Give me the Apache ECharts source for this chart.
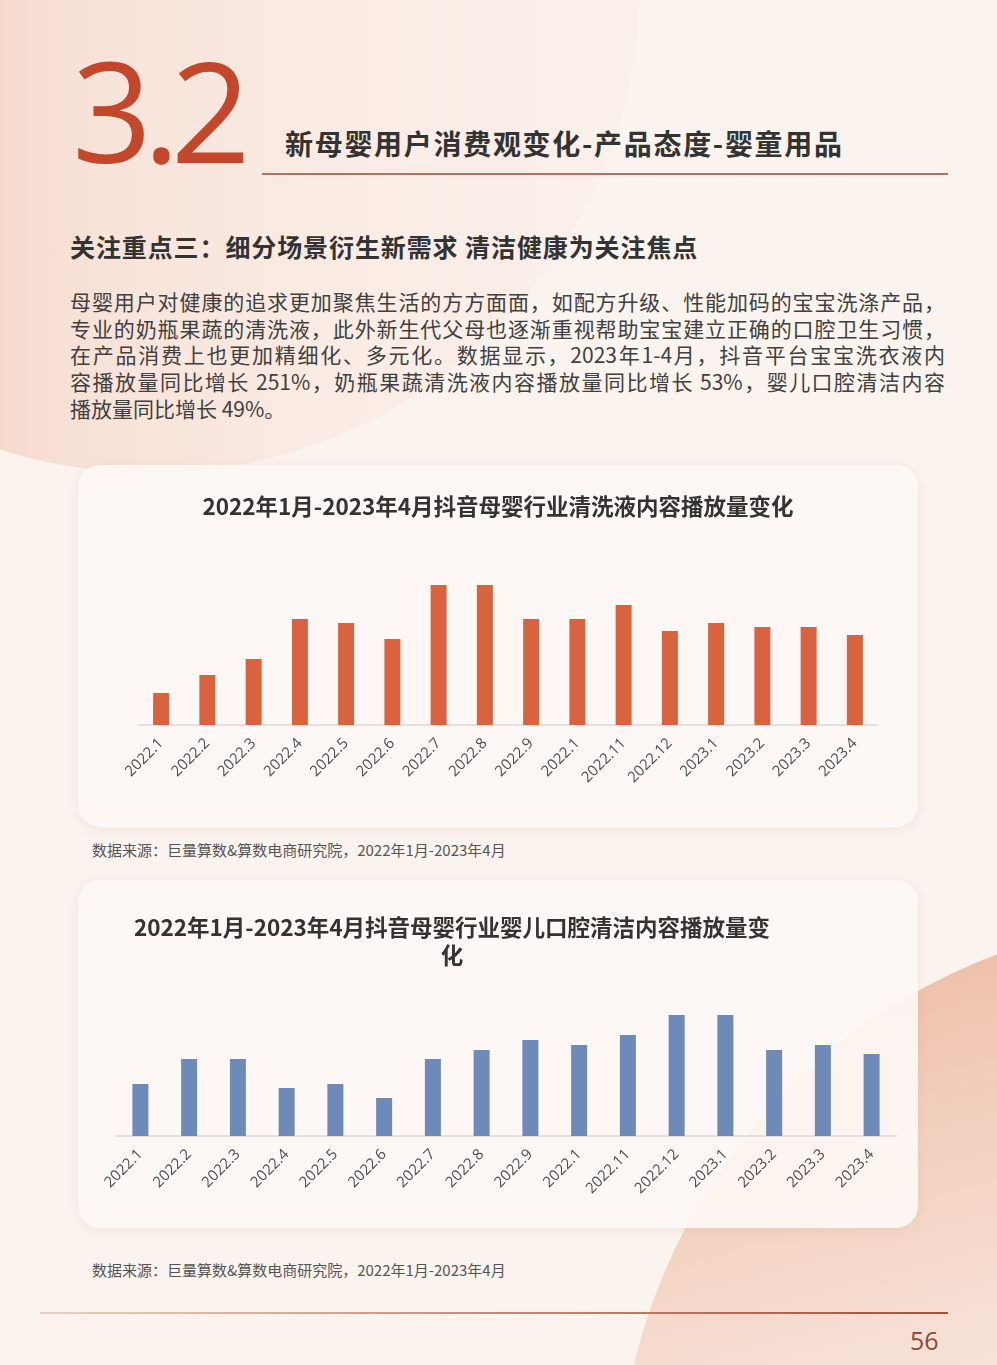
<!DOCTYPE html>
<html>
<head>
<meta charset="utf-8">
<script src="https://cdn.jsdelivr.net/npm/echarts@6/dist/echarts.min.js"></script>
<style>
html,body{margin:0;padding:0;}
body{width:997px;height:1365px;position:relative;overflow:hidden;background:#fbf3ee;font-family:"Noto Sans CJK SC","Noto Sans",sans-serif;color:#333;}
.bg1{position:absolute;left:-340px;top:-507px;width:980px;height:980px;border-radius:50%;
  background:linear-gradient(90deg,#eeb8a1 0%,#f3cfbf 22%,#f8e3d9 45%,#faece5 70%,#fbf0ea 100%);}
.bg2{position:absolute;left:618px;top:918px;width:1164px;height:1164px;border-radius:50%;
  background:linear-gradient(165deg,#ebb49b 0%,#f2cdbb 18%,#f8e4da 38%,#fbefe9 55%);}
.big{position:absolute;left:72px;top:34px;font-family:"Open Sans",sans-serif;font-weight:400;font-size:140px;line-height:150px;color:#c2472b;letter-spacing:-9px;}
.h1{position:absolute;left:285px;top:123px;font-size:28px;font-weight:bold;line-height:40px;color:#333;letter-spacing:1.7px;}
.line1{position:absolute;left:262px;top:173px;width:686px;height:2px;background:#b27260;}
.h2{position:absolute;left:70px;top:228px;font-size:25px;font-weight:bold;line-height:36px;color:#333;letter-spacing:0.9px;}
.para{position:absolute;left:70px;top:288px;width:875px;font-size:21px;line-height:26.7px;color:#404040;}
.para div{text-align:justify;text-align-last:justify;}
.para div.last{text-align-last:left;}
.card{position:absolute;left:78px;width:840px;border-radius:22px;background:rgba(253,248,245,0.9);box-shadow:0 2px 12px rgba(200,140,120,0.15);}
.src{position:absolute;left:92px;font-size:15px;line-height:20px;color:#555;}
.line2{position:absolute;left:40px;top:1312px;width:908px;height:2px;background:linear-gradient(90deg,#ead0c4,#c58a78 50%,#a4503c);}
.page{position:absolute;left:910px;top:1323px;font-family:"Open Sans",sans-serif;font-size:25px;line-height:34px;color:#8e4a3a;}
</style>
</head>
<body>
<div class="bg1"></div>
<div class="bg2"></div>
<div class="big">3.2</div>
<div class="h1">新母婴用户消费观变化-产品态度-婴童用品</div>
<div class="line1"></div>
<div class="h2">关注重点三：细分场景衍生新需求 清洁健康为关注焦点</div>
<div class="para">
  <div>母婴用户对健康的追求更加聚焦生活的方方面面，如配方升级、性能加码的宝宝洗涤产品，</div>
  <div>专业的奶瓶果蔬的清洗液，此外新生代父母也逐渐重视帮助宝宝建立正确的口腔卫生习惯，</div>
  <div>在产品消费上也更加精细化、多元化。数据显示，2023年1-4月，抖音平台宝宝洗衣液内</div>
  <div>容播放量同比增长 251%，奶瓶果蔬清洗液内容播放量同比增长 53%，婴儿口腔清洁内容</div>
  <div class="last">播放量同比增长 49%。</div>
</div>

<div class="card" style="top:465px;height:362px;"><div id="main" style="width:840px;height:362px;"></div></div>
<div class="src" style="top:840px;">数据来源：巨量算数&amp;算数电商研究院，2022年1月-2023年4月</div>

<div class="card" style="top:880px;height:348px;"><div id="oral" style="width:840px;height:348px;"></div></div>
<div class="src" style="top:1260px;">数据来源：巨量算数&amp;算数电商研究院，2022年1月-2023年4月</div>

<div class="line2"></div>
<div class="page">56</div>

<script>
// 横轴月份（原图第10个标签就写作 2022.1）
let months=["2022.1","2022.2","2022.3","2022.4","2022.5","2022.6","2022.7","2022.8","2022.9","2022.1","2022.11","2022.12","2023.1","2023.2","2023.3","2023.4"];
// 清洗液内容播放量（相对值，按柱高估读）
let washData=[0.8,1.25,1.65,2.65,2.55,2.15,3.5,3.5,2.65,2.65,3.0,2.35,2.55,2.45,2.45,2.25];
// 婴儿口腔清洁内容播放量（相对值）
let oralData=[5.2,7.7,7.7,4.8,5.2,3.8,7.7,8.6,9.6,9.1,10.1,12.1,12.1,8.6,9.1,8.2];

let washTitle="2022年1月-2023年4月抖音母婴行业清洗液内容播放量变化";
let oralTitle="2022年1月-2023年4月抖音母婴行业婴儿口腔清洁内容播放量变\n化";

let font='"Noto Sans CJK SC", sans-serif';

function barOption(title,titlePos,data,max,color,grid){
  return {
    animation:false,
    title:{
      text:title,
      left:titlePos.left,
      top:titlePos.top,
      textAlign:titlePos.align,
      textStyle:{fontSize:22.5,fontWeight:'bold',color:'#333',fontFamily:font,lineHeight:28}
    },
    grid:grid,
    xAxis:{
      type:'category',
      data:months,
      axisLine:{lineStyle:{color:'#d9d9d9',width:1.5}},
      axisTick:{show:false},
      axisLabel:{interval:0,rotate:45,fontSize:15,color:'#4d4d4d',margin:16,fontFamily:'"Open Sans", sans-serif'}
    },
    yAxis:{type:'value',show:false,min:0,max:max,splitLine:{show:false}},
    series:[{
      type:'bar',
      data:data,
      barWidth:16,
      itemStyle:{color:color}
    }]
  };
}

let washChart=echarts.init(document.getElementById('main'));
washChart.setOption(barOption(washTitle,{left:'center',top:22},washData,4,'#d9623f',
  {left:60,right:40,top:100,bottom:102}));

let oralChart=echarts.init(document.getElementById('oral'));
oralChart.setOption(barOption(oralTitle,{left:369,top:28,align:'center'},oralData,14,'#6e8ab9',
  {left:38,right:22,top:116,bottom:92}));
</script>
</body>
</html>
